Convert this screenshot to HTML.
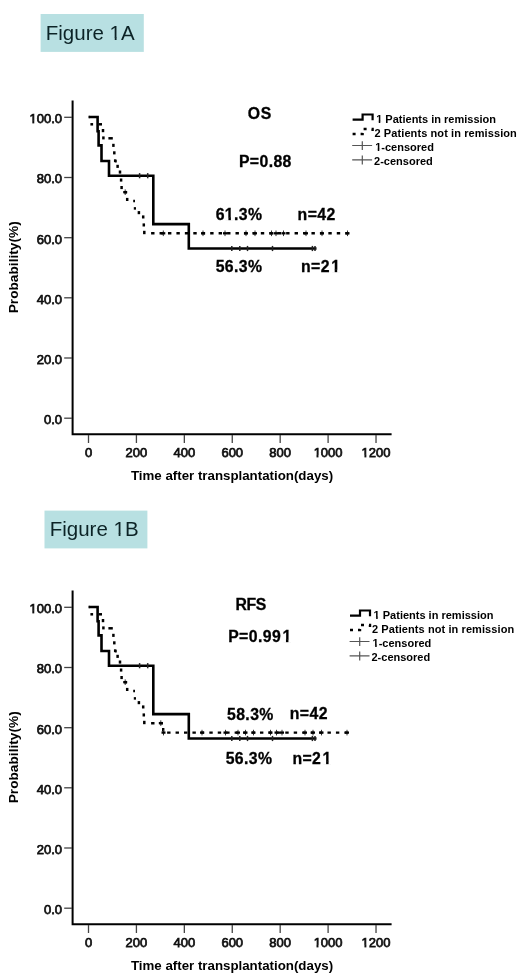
<!DOCTYPE html>
<html><head><meta charset="utf-8"><title>Figure 1</title>
<style>
html,body{margin:0;padding:0;background:#fff;}
#wrap{position:absolute;left:0;top:0;width:520px;height:977px;background:#fff;}
svg,.fig{will-change:transform;}
body{width:520px;height:977px;overflow:hidden;position:relative;font-family:"Liberation Sans", sans-serif;}
.fig{position:absolute;background:#b8e0e2;color:#0c2326;font-size:20.5px;line-height:39.6px;height:38px;overflow:hidden;box-sizing:border-box;padding-left:5px;}
svg{position:absolute;left:0;top:0;}
svg text{font-family:"Liberation Sans", sans-serif;fill:#000;}
.tk{font-size:13px;fill:#111;stroke:#111;stroke-width:0.75px;}
.ti{font-size:13.3px;font-weight:bold;}
.tp{font-size:13.7px;font-weight:bold;}
.an{font-size:15.8px;font-weight:bold;letter-spacing:0.4px;stroke:#000;stroke-width:0.3px;}
.lg{font-size:11px;font-weight:bold;}
.fg{font-size:20.5px;fill:#0c2326;}
</style></head>
<body>
<div id="wrap">
<svg width="520" height="977" viewBox="0 0 520 977">
<rect x="40.6" y="14" width="103.2" height="37.9" fill="#b8e0e2"/><text x="45.8" y="40.3" class="fg">Figure 1A</text>
<rect x="44.5" y="510.6" width="102.9" height="37.8" fill="#b8e0e2"/><text x="49.7" y="536.1" class="fg">Figure 1B</text>
<path d="M72.6 100.6 V434.2 H391.6" fill="none" stroke="#000" stroke-width="2"/>
<line x1="64.2" y1="117.3" x2="72" y2="117.3" stroke="#444" stroke-width="1.3"/>
<text x="62" y="123.2" text-anchor="end" class="tk">100.0</text>
<line x1="64.2" y1="177.5" x2="72" y2="177.5" stroke="#444" stroke-width="1.3"/>
<text x="62" y="183.4" text-anchor="end" class="tk">80.0</text>
<line x1="64.2" y1="237.7" x2="72" y2="237.7" stroke="#444" stroke-width="1.3"/>
<text x="62" y="243.6" text-anchor="end" class="tk">60.0</text>
<line x1="64.2" y1="297.8" x2="72" y2="297.8" stroke="#444" stroke-width="1.3"/>
<text x="62" y="303.7" text-anchor="end" class="tk">40.0</text>
<line x1="64.2" y1="358" x2="72" y2="358" stroke="#444" stroke-width="1.3"/>
<text x="62" y="363.9" text-anchor="end" class="tk">20.0</text>
<line x1="64.2" y1="418.2" x2="72" y2="418.2" stroke="#444" stroke-width="1.3"/>
<text x="62" y="424.1" text-anchor="end" class="tk">0.0</text>
<line x1="88.5" y1="435" x2="88.5" y2="443" stroke="#444" stroke-width="1.3"/>
<text x="88.5" y="457" text-anchor="middle" class="tk">0</text>
<line x1="136.42" y1="435" x2="136.42" y2="443" stroke="#444" stroke-width="1.3"/>
<text x="136.42" y="457" text-anchor="middle" class="tk">200</text>
<line x1="184.34" y1="435" x2="184.34" y2="443" stroke="#444" stroke-width="1.3"/>
<text x="184.34" y="457" text-anchor="middle" class="tk">400</text>
<line x1="232.26" y1="435" x2="232.26" y2="443" stroke="#444" stroke-width="1.3"/>
<text x="232.26" y="457" text-anchor="middle" class="tk">600</text>
<line x1="280.18" y1="435" x2="280.18" y2="443" stroke="#444" stroke-width="1.3"/>
<text x="280.18" y="457" text-anchor="middle" class="tk">800</text>
<line x1="328.1" y1="435" x2="328.1" y2="443" stroke="#444" stroke-width="1.3"/>
<text x="328.1" y="457" text-anchor="middle" class="tk">1000</text>
<line x1="376.02" y1="435" x2="376.02" y2="443" stroke="#444" stroke-width="1.3"/>
<text x="376.02" y="457" text-anchor="middle" class="tk">1200</text>
<text x="232" y="480" text-anchor="middle" class="ti">Time after transplantation(days)</text>
<text transform="translate(18.2 267.3) rotate(-90)" text-anchor="middle" class="tp">Probability(%)</text>
<path d="M88.6 117 L97.6 117 L97.6 131.2 L98.6 131.2 L98.6 145.4 L101.5 145.4 L101.5 161 L109 161 L109 175.7 L153.3 175.7 L153.3 224.1 L188.8 224.1 L188.8 248.5 L316.5 248.5" fill="none" stroke="#000" stroke-width="2.6"/>
<line x1="139.6" y1="173.1" x2="139.6" y2="178.3" stroke="#222" stroke-width="1.5"/>
<line x1="147.7" y1="173.1" x2="147.7" y2="178.3" stroke="#222" stroke-width="1.5"/>
<line x1="231.8" y1="245.9" x2="231.8" y2="251.1" stroke="#222" stroke-width="1.5"/>
<line x1="239.8" y1="245.9" x2="239.8" y2="251.1" stroke="#222" stroke-width="1.5"/>
<line x1="247.5" y1="245.9" x2="247.5" y2="251.1" stroke="#222" stroke-width="1.5"/>
<line x1="272.5" y1="245.9" x2="272.5" y2="251.1" stroke="#222" stroke-width="1.5"/>
<line x1="312.4" y1="245.9" x2="312.4" y2="251.1" stroke="#222" stroke-width="1.5"/>
<line x1="315" y1="245.9" x2="315" y2="251.1" stroke="#222" stroke-width="1.5"/>
<line x1="88.8" y1="117" x2="89.6" y2="117" stroke="#000" stroke-width="2.5"/>
<line x1="90.4" y1="124.3" x2="93.1" y2="124.3" stroke="#000" stroke-width="2.5"/>
<line x1="98.6" y1="124.3" x2="102" y2="124.3" stroke="#000" stroke-width="2.5"/>
<line x1="103" y1="129" x2="103" y2="132.2" stroke="#000" stroke-width="2.5"/>
<line x1="103.4" y1="136.4" x2="103.4" y2="139.4" stroke="#000" stroke-width="2.5"/>
<line x1="108.4" y1="138.3" x2="112.8" y2="138.3" stroke="#000" stroke-width="2.5"/>
<line x1="113.4" y1="143.8" x2="113.4" y2="146.9" stroke="#000" stroke-width="2.5"/>
<line x1="114.3" y1="151.3" x2="114.3" y2="154.4" stroke="#000" stroke-width="2.5"/>
<line x1="115.2" y1="159.3" x2="115.2" y2="162.2" stroke="#000" stroke-width="2.5"/>
<line x1="115.2" y1="161.2" x2="116.6" y2="161.2" stroke="#000" stroke-width="2.5"/>
<line x1="117.6" y1="164.8" x2="117.6" y2="167.9" stroke="#000" stroke-width="2.5"/>
<line x1="120" y1="170.5" x2="120" y2="173.6" stroke="#000" stroke-width="2.5"/>
<line x1="121.1" y1="178.5" x2="121.1" y2="181.6" stroke="#000" stroke-width="2.5"/>
<line x1="121.6" y1="186" x2="121.6" y2="189.1" stroke="#000" stroke-width="2.5"/>
<line x1="124.2" y1="192.2" x2="127" y2="192.2" stroke="#000" stroke-width="2.5"/>
<line x1="127.2" y1="197.9" x2="127.2" y2="201" stroke="#000" stroke-width="2.5"/>
<line x1="133.2" y1="201" x2="135" y2="201" stroke="#000" stroke-width="2.5"/>
<line x1="133.8" y1="208.4" x2="136" y2="208.4" stroke="#000" stroke-width="2.5"/>
<line x1="138.9" y1="211.1" x2="138.9" y2="214.2" stroke="#000" stroke-width="2.5"/>
<line x1="143.2" y1="215.4" x2="143.2" y2="218.5" stroke="#000" stroke-width="2.5"/>
<line x1="143.8" y1="223.4" x2="143.8" y2="226.5" stroke="#000" stroke-width="2.5"/>
<line x1="144.3" y1="230.8" x2="144.3" y2="234.2" stroke="#000" stroke-width="2.5"/>
<path d="M146.3 233.3 L348.8 233.3" fill="none" stroke="#000" stroke-width="2.4" stroke-dasharray="3.4 5.04" stroke-dashoffset="3.64"/>
<path d="M125.2 189.4 V195" stroke="#333" stroke-width="1"/><path d="M123.2 192.2 H127.2" stroke="#000" stroke-width="2.3"/>
<path d="M163.3 230.5 V236.1" stroke="#333" stroke-width="1"/><path d="M161.3 233.3 H165.3" stroke="#000" stroke-width="2.3"/>
<path d="M203 230.5 V236.1" stroke="#333" stroke-width="1"/><path d="M201 233.3 H205" stroke="#000" stroke-width="2.3"/>
<path d="M225 230.5 V236.1" stroke="#333" stroke-width="1"/><path d="M223 233.3 H227" stroke="#000" stroke-width="2.3"/>
<path d="M246 230.5 V236.1" stroke="#333" stroke-width="1"/><path d="M244 233.3 H248" stroke="#000" stroke-width="2.3"/>
<path d="M255 230.5 V236.1" stroke="#333" stroke-width="1"/><path d="M253 233.3 H257" stroke="#000" stroke-width="2.3"/>
<path d="M271.5 230.5 V236.1" stroke="#333" stroke-width="1"/><path d="M269.5 233.3 H273.5" stroke="#000" stroke-width="2.3"/>
<path d="M276 230.5 V236.1" stroke="#333" stroke-width="1"/><path d="M274 233.3 H278" stroke="#000" stroke-width="2.3"/>
<path d="M283.5 230.5 V236.1" stroke="#333" stroke-width="1"/><path d="M281.5 233.3 H285.5" stroke="#000" stroke-width="2.3"/>
<path d="M306 230.5 V236.1" stroke="#333" stroke-width="1"/><path d="M304 233.3 H308" stroke="#000" stroke-width="2.3"/>
<path d="M322 230.5 V236.1" stroke="#333" stroke-width="1"/><path d="M320 233.3 H324" stroke="#000" stroke-width="2.3"/>
<path d="M347.5 230.5 V236.1" stroke="#333" stroke-width="1"/><path d="M345.5 233.3 H349.5" stroke="#000" stroke-width="2.3"/>
<path d="M72.6 590.6 V924.2 H391.6" fill="none" stroke="#000" stroke-width="2"/>
<line x1="64.2" y1="607.3" x2="72" y2="607.3" stroke="#444" stroke-width="1.3"/>
<text x="62" y="613.2" text-anchor="end" class="tk">100.0</text>
<line x1="64.2" y1="667.5" x2="72" y2="667.5" stroke="#444" stroke-width="1.3"/>
<text x="62" y="673.4" text-anchor="end" class="tk">80.0</text>
<line x1="64.2" y1="727.7" x2="72" y2="727.7" stroke="#444" stroke-width="1.3"/>
<text x="62" y="733.6" text-anchor="end" class="tk">60.0</text>
<line x1="64.2" y1="787.8" x2="72" y2="787.8" stroke="#444" stroke-width="1.3"/>
<text x="62" y="793.7" text-anchor="end" class="tk">40.0</text>
<line x1="64.2" y1="848" x2="72" y2="848" stroke="#444" stroke-width="1.3"/>
<text x="62" y="853.9" text-anchor="end" class="tk">20.0</text>
<line x1="64.2" y1="908.2" x2="72" y2="908.2" stroke="#444" stroke-width="1.3"/>
<text x="62" y="914.1" text-anchor="end" class="tk">0.0</text>
<line x1="88.5" y1="925" x2="88.5" y2="933" stroke="#444" stroke-width="1.3"/>
<text x="88.5" y="947" text-anchor="middle" class="tk">0</text>
<line x1="136.42" y1="925" x2="136.42" y2="933" stroke="#444" stroke-width="1.3"/>
<text x="136.42" y="947" text-anchor="middle" class="tk">200</text>
<line x1="184.34" y1="925" x2="184.34" y2="933" stroke="#444" stroke-width="1.3"/>
<text x="184.34" y="947" text-anchor="middle" class="tk">400</text>
<line x1="232.26" y1="925" x2="232.26" y2="933" stroke="#444" stroke-width="1.3"/>
<text x="232.26" y="947" text-anchor="middle" class="tk">600</text>
<line x1="280.18" y1="925" x2="280.18" y2="933" stroke="#444" stroke-width="1.3"/>
<text x="280.18" y="947" text-anchor="middle" class="tk">800</text>
<line x1="328.1" y1="925" x2="328.1" y2="933" stroke="#444" stroke-width="1.3"/>
<text x="328.1" y="947" text-anchor="middle" class="tk">1000</text>
<line x1="376.02" y1="925" x2="376.02" y2="933" stroke="#444" stroke-width="1.3"/>
<text x="376.02" y="947" text-anchor="middle" class="tk">1200</text>
<text x="232" y="970" text-anchor="middle" class="ti">Time after transplantation(days)</text>
<text transform="translate(18.2 757.3) rotate(-90)" text-anchor="middle" class="tp">Probability(%)</text>
<path d="M88.6 607 L97.6 607 L97.6 621.2 L98.6 621.2 L98.6 635.4 L101.5 635.4 L101.5 651 L109 651 L109 665.7 L153.3 665.7 L153.3 714.1 L188.8 714.1 L188.8 738.5 L316.5 738.5" fill="none" stroke="#000" stroke-width="2.6"/>
<line x1="139.6" y1="663.1" x2="139.6" y2="668.3" stroke="#222" stroke-width="1.5"/>
<line x1="147.7" y1="663.1" x2="147.7" y2="668.3" stroke="#222" stroke-width="1.5"/>
<line x1="231.8" y1="735.9" x2="231.8" y2="741.1" stroke="#222" stroke-width="1.5"/>
<line x1="239.8" y1="735.9" x2="239.8" y2="741.1" stroke="#222" stroke-width="1.5"/>
<line x1="247.5" y1="735.9" x2="247.5" y2="741.1" stroke="#222" stroke-width="1.5"/>
<line x1="272.5" y1="735.9" x2="272.5" y2="741.1" stroke="#222" stroke-width="1.5"/>
<line x1="312.4" y1="735.9" x2="312.4" y2="741.1" stroke="#222" stroke-width="1.5"/>
<line x1="315" y1="735.9" x2="315" y2="741.1" stroke="#222" stroke-width="1.5"/>
<line x1="88.8" y1="607" x2="89.6" y2="607" stroke="#000" stroke-width="2.5"/>
<line x1="90.4" y1="614.3" x2="93.1" y2="614.3" stroke="#000" stroke-width="2.5"/>
<line x1="98.6" y1="614.3" x2="102" y2="614.3" stroke="#000" stroke-width="2.5"/>
<line x1="103" y1="619" x2="103" y2="622.2" stroke="#000" stroke-width="2.5"/>
<line x1="103.4" y1="626.4" x2="103.4" y2="629.4" stroke="#000" stroke-width="2.5"/>
<line x1="108.4" y1="628.3" x2="112.8" y2="628.3" stroke="#000" stroke-width="2.5"/>
<line x1="113.4" y1="633.8" x2="113.4" y2="636.9" stroke="#000" stroke-width="2.5"/>
<line x1="114.3" y1="641.3" x2="114.3" y2="644.4" stroke="#000" stroke-width="2.5"/>
<line x1="115.2" y1="649.3" x2="115.2" y2="652.2" stroke="#000" stroke-width="2.5"/>
<line x1="115.2" y1="651.2" x2="116.6" y2="651.2" stroke="#000" stroke-width="2.5"/>
<line x1="117.6" y1="654.8" x2="117.6" y2="657.9" stroke="#000" stroke-width="2.5"/>
<line x1="120" y1="660.5" x2="120" y2="663.6" stroke="#000" stroke-width="2.5"/>
<line x1="121.1" y1="668.5" x2="121.1" y2="671.6" stroke="#000" stroke-width="2.5"/>
<line x1="121.6" y1="676" x2="121.6" y2="679.1" stroke="#000" stroke-width="2.5"/>
<line x1="124.2" y1="682.2" x2="127" y2="682.2" stroke="#000" stroke-width="2.5"/>
<line x1="127.2" y1="687.9" x2="127.2" y2="691" stroke="#000" stroke-width="2.5"/>
<line x1="133.2" y1="691" x2="135" y2="691" stroke="#000" stroke-width="2.5"/>
<line x1="133.8" y1="698.4" x2="136" y2="698.4" stroke="#000" stroke-width="2.5"/>
<line x1="138.9" y1="701.1" x2="138.9" y2="704.2" stroke="#000" stroke-width="2.5"/>
<line x1="143.2" y1="705.4" x2="143.2" y2="708.5" stroke="#000" stroke-width="2.5"/>
<line x1="143.8" y1="713.4" x2="143.8" y2="716.5" stroke="#000" stroke-width="2.5"/>
<line x1="144.3" y1="720.8" x2="144.3" y2="724.2" stroke="#000" stroke-width="2.5"/>
<path d="M146.3 723.3 L163.2 723.3 L163.2 732.6 L349.5 732.6" fill="none" stroke="#000" stroke-width="2.4" stroke-dasharray="3.4 5.04" stroke-dashoffset="3.64"/>
<path d="M125.2 679.4 V685" stroke="#333" stroke-width="1"/><path d="M123.2 682.2 H127.2" stroke="#000" stroke-width="2.3"/>
<path d="M160.8 720.3 V725.9" stroke="#333" stroke-width="1"/><path d="M158.8 723.1 H162.8" stroke="#000" stroke-width="2.3"/>
<path d="M163.5 729.8 V735.4" stroke="#333" stroke-width="1"/><path d="M161.5 732.6 H165.5" stroke="#000" stroke-width="2.3"/>
<path d="M202 729.8 V735.4" stroke="#333" stroke-width="1"/><path d="M200 732.6 H204" stroke="#000" stroke-width="2.3"/>
<path d="M225.5 729.8 V735.4" stroke="#333" stroke-width="1"/><path d="M223.5 732.6 H227.5" stroke="#000" stroke-width="2.3"/>
<path d="M238 729.8 V735.4" stroke="#333" stroke-width="1"/><path d="M236 732.6 H240" stroke="#000" stroke-width="2.3"/>
<path d="M245.5 729.8 V735.4" stroke="#333" stroke-width="1"/><path d="M243.5 732.6 H247.5" stroke="#000" stroke-width="2.3"/>
<path d="M253.5 729.8 V735.4" stroke="#333" stroke-width="1"/><path d="M251.5 732.6 H255.5" stroke="#000" stroke-width="2.3"/>
<path d="M270.5 729.8 V735.4" stroke="#333" stroke-width="1"/><path d="M268.5 732.6 H272.5" stroke="#000" stroke-width="2.3"/>
<path d="M276.5 729.8 V735.4" stroke="#333" stroke-width="1"/><path d="M274.5 732.6 H278.5" stroke="#000" stroke-width="2.3"/>
<path d="M282 729.8 V735.4" stroke="#333" stroke-width="1"/><path d="M280 732.6 H284" stroke="#000" stroke-width="2.3"/>
<path d="M305 729.8 V735.4" stroke="#333" stroke-width="1"/><path d="M303 732.6 H307" stroke="#000" stroke-width="2.3"/>
<path d="M313 729.8 V735.4" stroke="#333" stroke-width="1"/><path d="M311 732.6 H315" stroke="#000" stroke-width="2.3"/>
<path d="M321.5 729.8 V735.4" stroke="#333" stroke-width="1"/><path d="M319.5 732.6 H323.5" stroke="#000" stroke-width="2.3"/>
<path d="M347 729.8 V735.4" stroke="#333" stroke-width="1"/><path d="M345 732.6 H349" stroke="#000" stroke-width="2.3"/>
<path d="M352.6 119.7 H362.6 V114.5 H372.6 V120.3" fill="none" stroke="#000" stroke-width="2.2"/>
<path d="M352.6 134 H362.6 V129 H372.6 V134" fill="none" stroke="#000" stroke-width="2.4" stroke-dasharray="3 5"/>
<path d="M352.2 145.5 H372.1 M362.3 141.2 V150" stroke="#555" stroke-width="1.2"/>
<path d="M352.2 159.9 H372.1 M362.3 155.6 V164.4" stroke="#555" stroke-width="1.2"/>
<text x="376.2" y="122.6" class="lg">1 Patients in remission</text>
<text x="374.5" y="136.6" class="lg" style="letter-spacing:0.09px">2 Patients not in remission</text>
<text x="375.2" y="150.7" class="lg">1-censored</text>
<text x="374.1" y="165" class="lg">2-censored</text>
<path d="M350 615.7 H360 V610.5 H370 V616.3" fill="none" stroke="#000" stroke-width="2.2"/>
<path d="M350 630 H360 V625 H370 V630" fill="none" stroke="#000" stroke-width="2.4" stroke-dasharray="3 5"/>
<path d="M349.6 641.5 H369.5 M359.7 637.2 V646" stroke="#555" stroke-width="1.2"/>
<path d="M349.6 655.9 H369.5 M359.7 651.6 V660.4" stroke="#555" stroke-width="1.2"/>
<text x="373.6" y="618.6" class="lg">1 Patients in remission</text>
<text x="371.9" y="632.6" class="lg" style="letter-spacing:0.09px">2 Patients not in remission</text>
<text x="372.6" y="646.7" class="lg">1-censored</text>
<text x="371.5" y="661" class="lg">2-censored</text>
<text x="247.8" y="118.6" class="an" style="letter-spacing:0.6px">OS</text>
<text x="238.9" y="166.8" class="an">P=0.88</text>
<text x="215.7" y="220.2" class="an">61.3%</text>
<text x="297.6" y="219.8" class="an">n=42</text>
<text x="215.7" y="272" class="an">56.3%</text>
<text x="301" y="271.6" class="an">n=2<tspan dx="1.3">1</tspan></text>
<text x="235.6" y="609.8" class="an" style="letter-spacing:-0.5px">RFS</text>
<text x="228.2" y="642" class="an">P=0.99<tspan dx="1.3">1</tspan></text>
<text x="227" y="719.8" class="an">58.3%</text>
<text x="289.8" y="718.7" class="an">n=42</text>
<text x="225.7" y="764.4" class="an">56.3%</text>
<text x="292.4" y="763.9" class="an">n=2<tspan dx="1.3">1</tspan></text>
<rect x="110.46" y="37.77" width="10.24" height="2.93" fill="#b8e0e2"/>
<rect x="114.75" y="37.27" width="1.81" height="2.73" fill="#0c2326"/>
<rect x="114.36" y="533.77" width="10.24" height="2.93" fill="#b8e0e2"/>
<rect x="118.65" y="533.27" width="1.81" height="2.73" fill="#0c2326"/>
<rect x="29.34" y="120.93" width="7.8" height="3.17" fill="#fff"/>
<rect x="32.32" y="120.83" width="1.95" height="2.57" fill="#111"/>
<rect x="313.53" y="454.93" width="7.8" height="3.17" fill="#fff"/>
<rect x="316.51" y="454.83" width="1.95" height="2.57" fill="#111"/>
<rect x="361.45" y="454.93" width="7.8" height="3.17" fill="#fff"/>
<rect x="364.43" y="454.83" width="1.95" height="2.57" fill="#111"/>
<rect x="29.34" y="610.93" width="7.8" height="3.17" fill="#fff"/>
<rect x="32.32" y="610.83" width="1.95" height="2.57" fill="#111"/>
<rect x="313.53" y="944.93" width="7.8" height="3.17" fill="#fff"/>
<rect x="316.51" y="944.83" width="1.95" height="2.57" fill="#111"/>
<rect x="361.45" y="944.93" width="7.8" height="3.17" fill="#fff"/>
<rect x="364.43" y="944.83" width="1.95" height="2.57" fill="#111"/>
<rect x="376.19" y="121.18" width="6.52" height="2.52" fill="#fff"/>
<rect x="378.77" y="120.68" width="1.51" height="2.32" fill="#000"/>
<rect x="375.19" y="149.18" width="6.52" height="2.52" fill="#fff"/>
<rect x="377.77" y="148.68" width="1.51" height="2.32" fill="#000"/>
<rect x="373.59" y="617.18" width="6.52" height="2.52" fill="#fff"/>
<rect x="376.17" y="616.68" width="1.51" height="2.32" fill="#000"/>
<rect x="372.59" y="645.18" width="6.52" height="2.52" fill="#fff"/>
<rect x="375.17" y="644.68" width="1.51" height="2.32" fill="#000"/>
<rect x="225.02" y="217.54" width="9.05" height="3.31" fill="#fff"/>
<rect x="228.41" y="217.19" width="2.47" height="2.96" fill="#000"/>
<rect x="331.32" y="269.54" width="9.05" height="3.31" fill="#fff"/>
<rect x="334.71" y="269.19" width="2.47" height="2.96" fill="#000"/>
<rect x="282.57" y="639.54" width="9.05" height="3.31" fill="#fff"/>
<rect x="285.96" y="639.19" width="2.47" height="2.96" fill="#000"/>
<rect x="322.72" y="761.54" width="9.05" height="3.31" fill="#fff"/>
<rect x="326.11" y="761.19" width="2.47" height="2.96" fill="#000"/>
</svg>
</div>
</body></html>
